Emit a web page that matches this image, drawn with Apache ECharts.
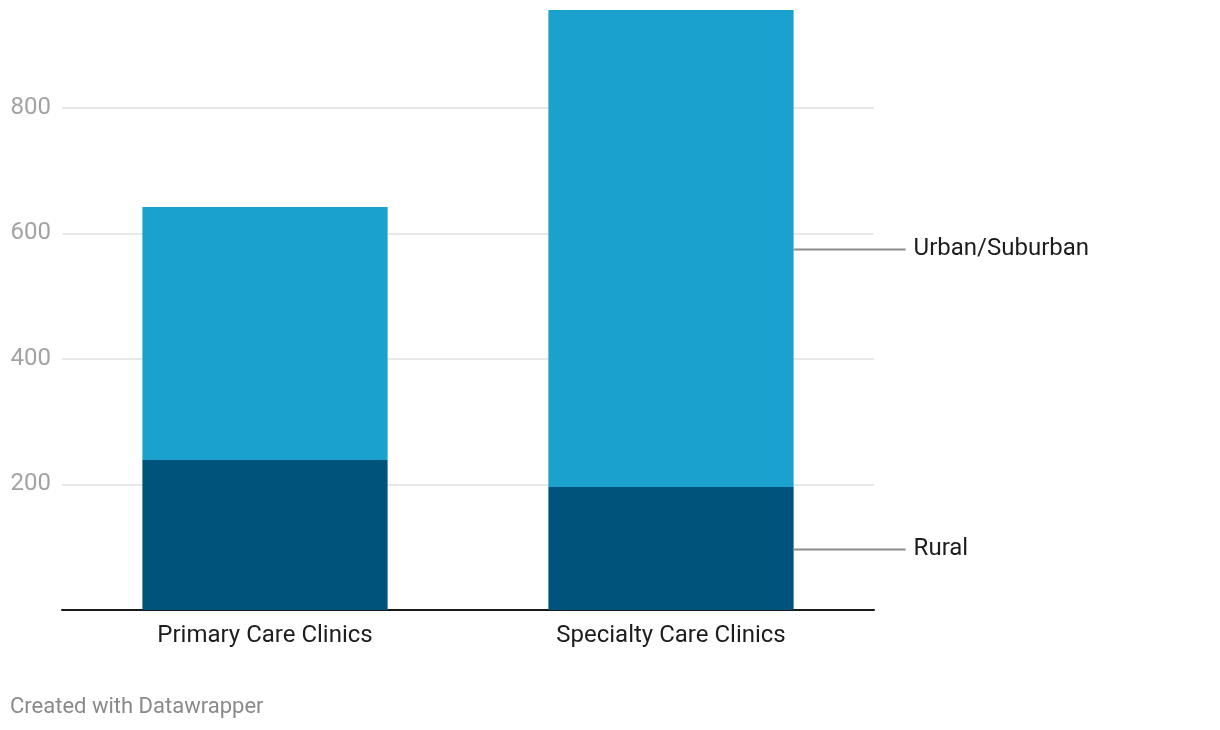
<!DOCTYPE html>
<html>
<head>
<meta charset="utf-8">
<script src="https://cdn.jsdelivr.net/npm/echarts@6/dist/echarts.min.js"></script>
<style>
html,body{margin:0;padding:0;background:#fff;}
#chart{width:1220px;height:730px;}
</style>
</head>
<body>
<div id="chart"></div>
<script>
const categories = ['Primary Care Clinics', 'Specialty Care Clinics'];
const seriesNames = ['Rural', 'Urban/Suburban'];
const rural = [239, 196];
const urban = [403, 760];
const yTicks = [200, 400, 600, 800];

const colors = ['#00537a', '#1ba1cd'];
const FONT = 'Roboto, "Noto Sans", sans-serif';

function buildData(values) {
  return values.map((v, i) => {
    const item = { value: v };
    if (i === values.length - 1) {
      item.label = { show: true };
    }
    return item;
  });
}

function makeSeries(name, values, color) {
  return {
    name: name,
    type: 'bar',
    stack: 'total',
    barWidth: '60.4%',
    z: 3,
    itemStyle: { color: color },
    data: buildData(values),
    label: {
      show: false,
      position: 'right',
      distance: 0,
      offset: [0, 1],
      formatter: function () { return '{line|}{name|' + name + '}'; },
      rich: {
        line: { width: 112, height: 2, backgroundColor: '#8c8c8c' },
        name: { fontSize: 24, color: '#1d1d1d', fontFamily: FONT, padding: [0, 0, 0, 8] }
      }
    },
    emphasis: { disabled: true }
  };
}

const chart = echarts.init(document.getElementById('chart'), null, { renderer: 'canvas' });
chart.setOption({
  animation: false,
  backgroundColor: '#ffffff',
  textStyle: { fontFamily: FONT },
  title: {
    text: 'Created with Datawrapper',
    left: 5,
    top: 691,
    textStyle: { fontSize: 22, fontWeight: 'normal', color: '#8a8a8a', fontFamily: FONT }
  },
  grid: { left: 62, right: 346, top: 10, bottom: 120, containLabel: false },
  xAxis: {
    type: 'category',
    data: categories,
    axisLine: { show: true, lineStyle: { color: '#1a1a1a', width: 2 } },
    axisTick: { show: false },
    axisLabel: { fontSize: 24, color: '#1d1d1d', margin: 14, fontFamily: FONT }
  },
  yAxis: {
    type: 'value',
    min: 0,
    max: 956,
    interval: 200,
    axisLine: { show: false },
    axisTick: { show: false },
    splitLine: { show: true, showMinLine: false, showMaxLine: false, lineStyle: { color: '#e0e0e0', width: 1.5 } },
    axisLabel: {
      fontSize: 24,
      color: '#a3a3a3',
      margin: 11,
      fontFamily: FONT,
      showMinLabel: false,
      showMaxLabel: false,
      formatter: function (v) { return yTicks.indexOf(v) >= 0 ? String(v) : ''; }
    }
  },
  series: [
    makeSeries(seriesNames[0], rural, colors[0]),
    makeSeries(seriesNames[1], urban, colors[1])
  ]
});
</script>
</body>
</html>
